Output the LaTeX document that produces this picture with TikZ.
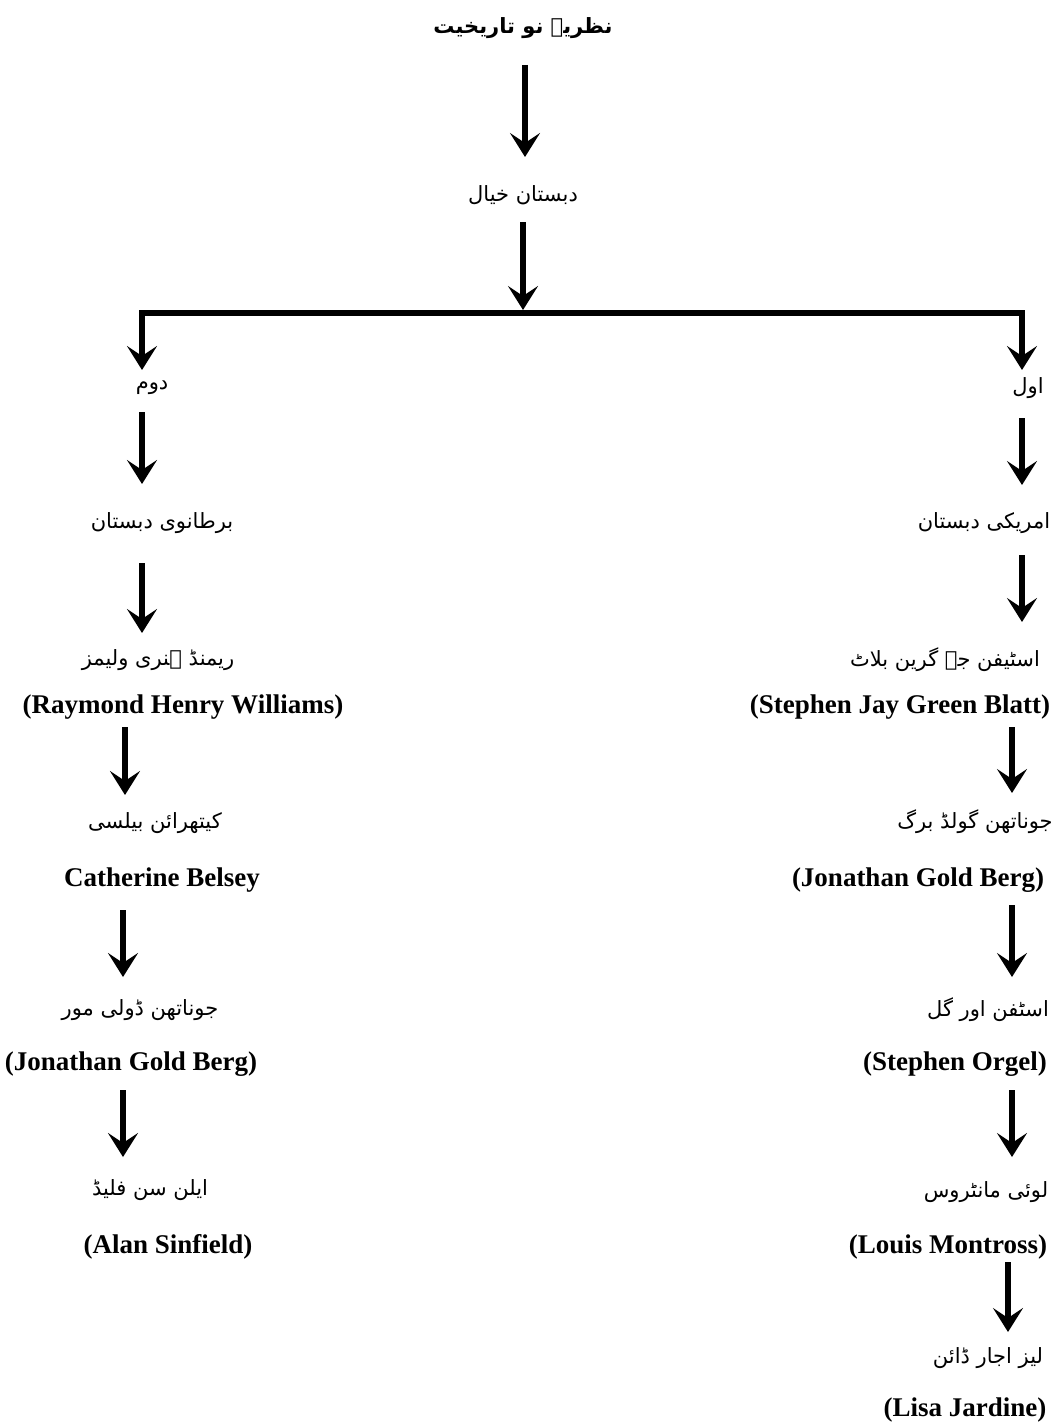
\documentclass[tikz,border=0pt]{standalone}
\usepackage{fontspec}
\setmainfont{Liberation Serif}
\newfontfamily\ur[Script=Arabic]{DejaVu Sans}
\TeXXeTstate=1
\usetikzlibrary{arrows.meta}
\begin{document}
\begin{tikzpicture}[x=1pt,y=-1pt,
  ut/.style={inner sep=0pt,font=\ur\fontsize{21}{24}\selectfont},
  title/.style={inner sep=0pt,font=\ur\bfseries\fontsize{21}{26}\selectfont},
  en/.style={inner sep=0pt,font=\fontsize{27}{30}\selectfont\bfseries},
  arr/.style={line width=6.5pt,-{Stealth[length=24pt,width=30pt,inset=10pt]}},
  bar/.style={line width=6pt,line cap=rect}]
\useasboundingbox[fill=white] (0,0) rectangle (1055,1426);
% nodes
\node[title] (t) at (523,28) {\beginR نظریہ نو تاریخیت\endR};
\node[ut] (dk) at (523,195) {\beginR دبستان خیال\endR};
\node[ut] (awl) at (1028,388) {\beginR اول\endR};
\node[ut] (dom) at (152,388) {\beginR دوم\endR};
\node[ut] (amr) at (984,523) {\beginR امریکی دبستان\endR};
\node[ut] (brt) at (162,523) {\beginR برطانوی دبستان\endR};
\node[ut] (sg) at (945,660) {\beginR اسٹیفن جے گرین بلاٹ\endR};
\node[en] (sge) at (900,707) {(Stephen Jay Green Blatt)};
\node[ut] (jg) at (975,822) {\beginR جوناتھن گولڈ برگ\endR};
\node[en] (jge) at (918,880) {(Jonathan Gold Berg)};
\node[ut] (so) at (988,1010) {\beginR اسٹفن اور گل\endR};
\node[en] (soe) at (955,1064) {(Stephen Orgel)};
\node[ut] (lm) at (986,1192) {\beginR لوئی مانٹروس\endR};
\node[en] (lme) at (948,1247) {(Louis Montross)};
\node[ut] (lj) at (988,1358) {\beginR لیز اجار ڈائن\endR};
\node[en] (lje) at (965,1410) {(Lisa Jardine)};
\node[ut] (rw) at (158,660) {\beginR ریمنڈ ہنری ولیمز\endR};
\node[en] (rwe) at (183,707) {(Raymond Henry Williams)};
\node[ut] (cb) at (155,823) {\beginR کیتھرائن بیلسی\endR};
\node[en] (cbe) at (162,880) {Catherine Belsey};
\node[ut] (jd) at (140,1010) {\beginR جوناتھن ڈولی مور\endR};
\node[en] (jde) at (131,1064) {(Jonathan Gold Berg)};
\node[ut] (as) at (150,1190) {\beginR ایلن سن فلیڈ\endR};
\node[en] (ase) at (168,1247) {(Alan Sinfield)};
% connector ends
\coordinate (a1s) at (525,65);   \coordinate (a1e) at (525,157);
\coordinate (a2s) at (523,222);  \coordinate (a2e) at (523,310);
\coordinate (bl) at (142,313);   \coordinate (br) at (1022,313);
\coordinate (l0e) at (142,370);  \coordinate (r0e) at (1022,370);
\coordinate (r1s) at (1022,418); \coordinate (r1e) at (1022,485);
\coordinate (r2s) at (1022,555); \coordinate (r2e) at (1022,622);
\coordinate (r3s) at (1012,727); \coordinate (r3e) at (1012,793);
\coordinate (r4s) at (1012,905); \coordinate (r4e) at (1012,977);
\coordinate (r5s) at (1012,1090);\coordinate (r5e) at (1012,1157);
\coordinate (r6s) at (1008,1262);\coordinate (r6e) at (1008,1332);
\coordinate (l1s) at (142,412);  \coordinate (l1e) at (142,484);
\coordinate (l2s) at (142,563);  \coordinate (l2e) at (142,633);
\coordinate (l3s) at (125,727);  \coordinate (l3e) at (125,795);
\coordinate (l4s) at (123,910);  \coordinate (l4e) at (123,977);
\coordinate (l5s) at (123,1090); \coordinate (l5e) at (123,1157);
% connectors
\draw[bar] (bl) -- (br);
\draw[arr] (a1s) -- (a1e);
\draw[arr] (a2s) -- (a2e);
\draw[arr] (bl) -- (l0e);
\draw[arr] (br) -- (r0e);
\foreach \i in {1,...,6} {\draw[arr] (r\i s) -- (r\i e);}
\foreach \i in {1,...,5} {\draw[arr] (l\i s) -- (l\i e);}
\end{tikzpicture}
\end{document}
